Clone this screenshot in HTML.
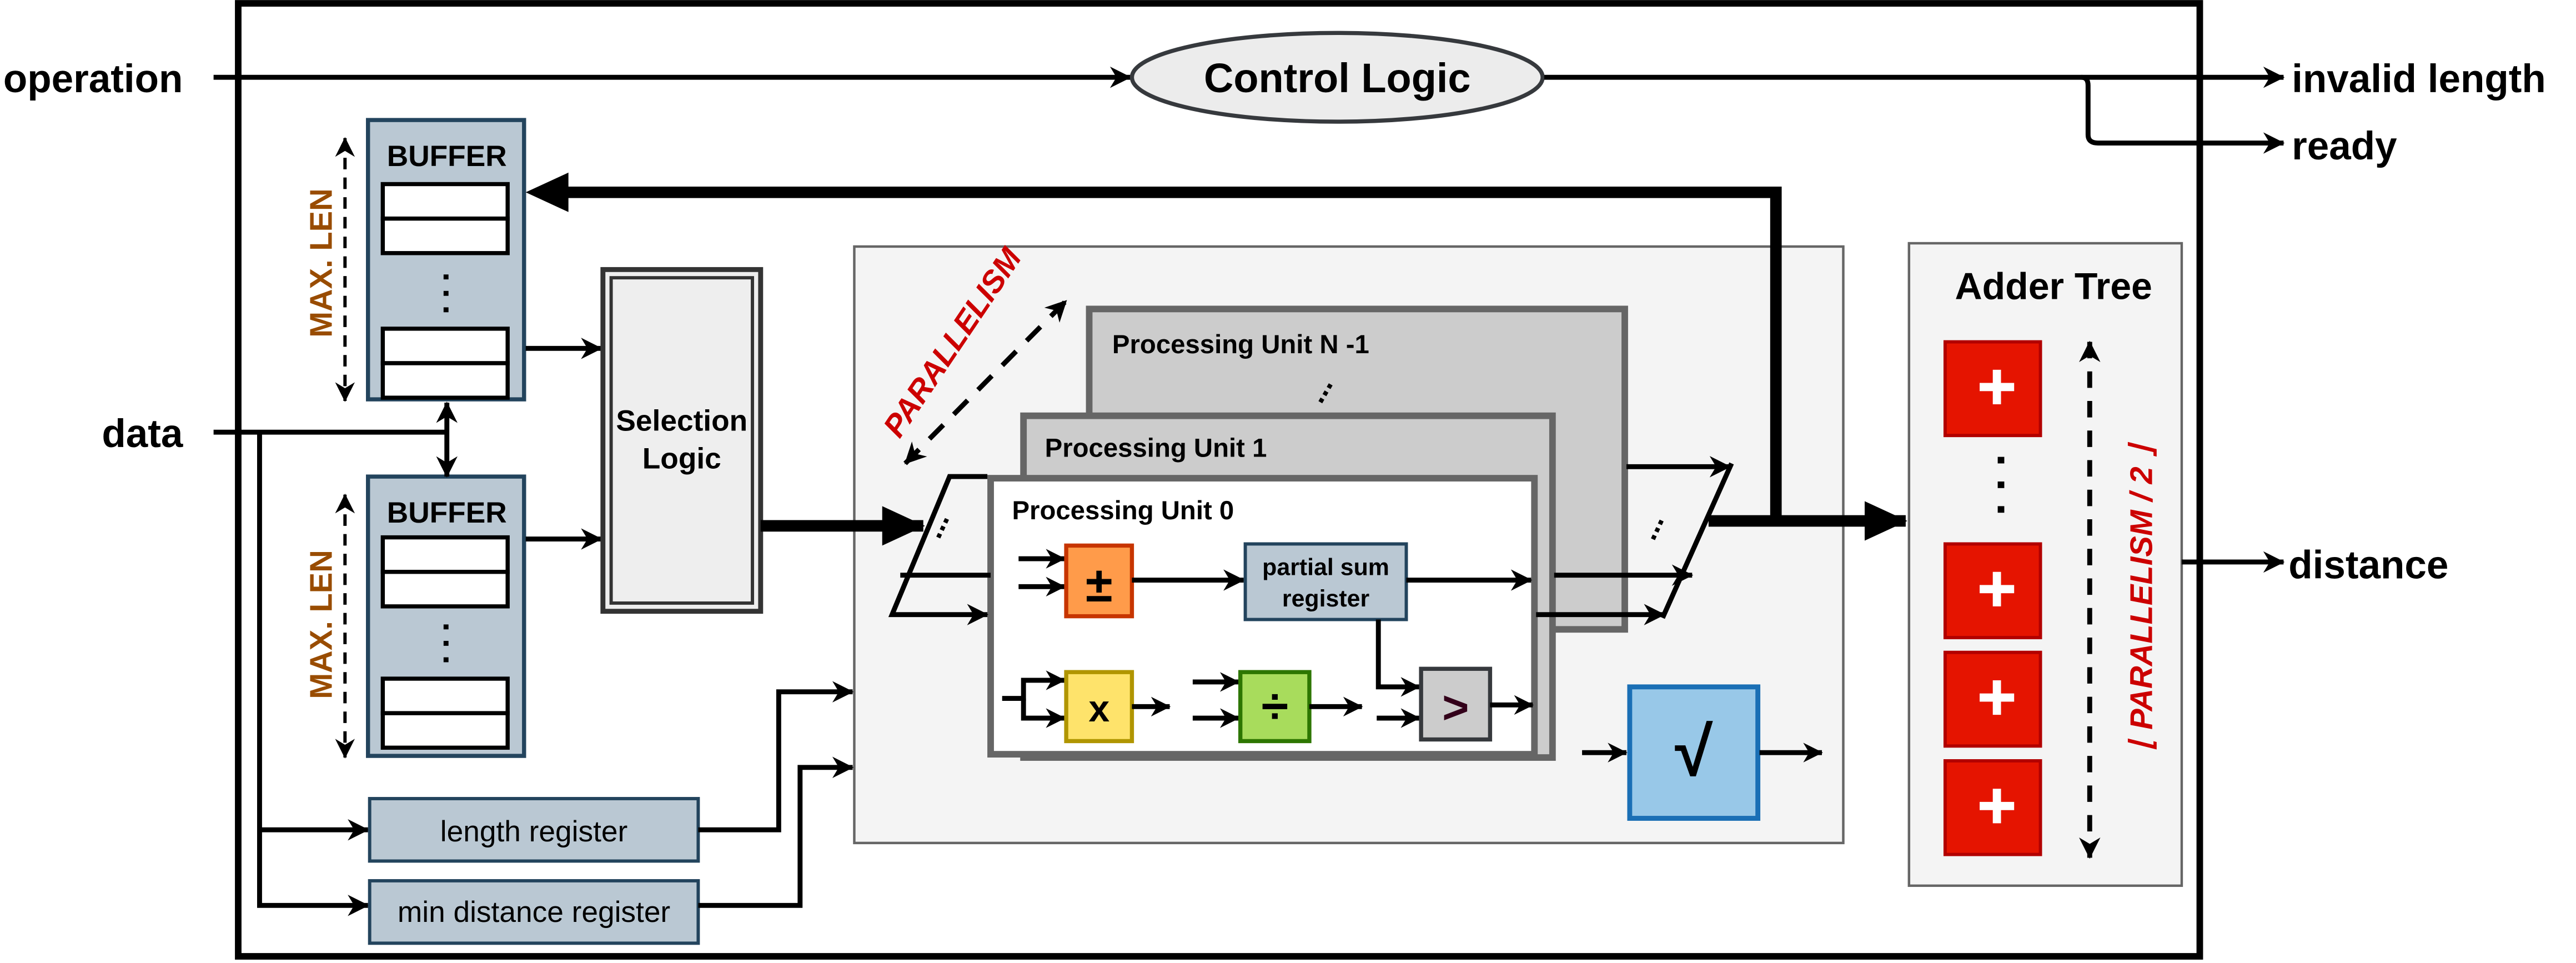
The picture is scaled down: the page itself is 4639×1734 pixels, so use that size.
<!DOCTYPE html>
<html><head><meta charset="utf-8"><style>
html,body{margin:0;padding:0;background:#fff;}
svg{display:block;}
text{font-family:"Liberation Sans",Arial,sans-serif;}
</style></head><body>
<svg width="4639" height="1734" viewBox="0 0 1568 586" xmlns="http://www.w3.org/2000/svg">
<defs>
<marker id="a" markerWidth="14" markerHeight="13" refX="9.5" refY="5" orient="auto-start-reverse" markerUnits="userSpaceOnUse" viewBox="0 0 10 10">
<path d="M0,0 L10,5 L0,10 L3,5 z" fill="#000"/></marker>
<marker id="as" markerWidth="12" markerHeight="12" refX="9.5" refY="5" orient="auto-start-reverse" markerUnits="userSpaceOnUse" viewBox="0 0 10 10">
<path d="M0,0 L10,5 L0,10 L3,5 z" fill="#000"/></marker>
<marker id="ab" markerWidth="26" markerHeight="24" refX="25" refY="12" orient="auto" markerUnits="userSpaceOnUse" viewBox="0 0 26 24">
<path d="M0,0 L26,12 L0,24 z" fill="#000"/></marker>
</defs>
<rect x="0" y="0" width="1568" height="586" fill="#fff"/>
<rect x="145" y="2" width="1194" height="580" fill="#fff" stroke="#000" stroke-width="4"/>

<line x1="130" y1="47" x2="688" y2="47" stroke="#000" stroke-width="3" marker-end="url(#a)"/>
<ellipse cx="814" cy="47" rx="125" ry="27" fill="#ececec" stroke="#36393d" stroke-width="2.5"/>
<text x="814" y="56" font-size="25" font-weight="bold" text-anchor="middle">Control Logic</text>
<line x1="940" y1="47" x2="1390" y2="47" stroke="#000" stroke-width="3" marker-end="url(#a)"/>
<path d="M1267,47 Q1271,47 1271,52 L1271,82 Q1271,87 1277,87 L1390,87" fill="none" stroke="#000" stroke-width="3" marker-end="url(#a)"/>
<text x="2" y="56" font-size="24" font-weight="bold">operation</text>
<text x="1395" y="56" font-size="24" font-weight="bold">invalid length</text>
<text x="1395" y="97" font-size="24" font-weight="bold">ready</text>
<text x="62" y="272" font-size="24" font-weight="bold">data</text>
<text x="1393" y="352" font-size="24" font-weight="bold">distance</text>

<rect x="520" y="150" width="602" height="363" fill="#f4f4f4" stroke="#666" stroke-width="1.5"/>
<rect x="1162" y="148" width="166" height="391" fill="#f4f4f4" stroke="#666" stroke-width="1.5"/>
<text x="1250" y="182" font-size="23" font-weight="bold" text-anchor="middle">Adder Tree</text>
<g fill="#e51400" stroke="#b20000" stroke-width="2">
<rect x="1184" y="208" width="58" height="57"/>
<rect x="1184" y="331" width="58" height="57"/>
<rect x="1184" y="397" width="58" height="57"/>
<rect x="1184" y="463" width="58" height="57"/>
</g>
<g fill="#fff">
<rect x="1205" y="233" width="21" height="5"/><rect x="1213" y="225" width="5" height="21"/>
<rect x="1205" y="356" width="21" height="5"/><rect x="1213" y="348" width="5" height="21"/>
<rect x="1205" y="422" width="21" height="5"/><rect x="1213" y="414" width="5" height="21"/>
<rect x="1205" y="488" width="21" height="5"/><rect x="1213" y="480" width="5" height="21"/>
</g>
<g fill="#000"><rect x="1216" y="278" width="4" height="4"/><rect x="1216" y="293" width="4" height="4"/><rect x="1216" y="308" width="4" height="4"/></g>
<line x1="1272" y1="208" x2="1272" y2="522" stroke="#000" stroke-width="3" stroke-dasharray="10,8" marker-start="url(#a)" marker-end="url(#a)"/>
<text transform="translate(1310,364) rotate(-90)" font-size="19" font-weight="bold" font-style="italic" fill="#cc0000" text-anchor="middle">⌊ PARALLELISM / 2 ⌋</text>

<line x1="1328" y1="342" x2="1390" y2="342" stroke="#000" stroke-width="3" marker-end="url(#a)"/>

<g>
<rect x="224" y="73" width="95" height="170" fill="#bac8d3" stroke="#23445d" stroke-width="2.5"/>
<text x="272" y="101" font-size="18" font-weight="bold" text-anchor="middle">BUFFER</text>
<rect x="233" y="112" width="76" height="21" fill="#fff" stroke="#000" stroke-width="2.5"/>
<rect x="233" y="133" width="76" height="21" fill="#fff" stroke="#000" stroke-width="2.5"/>
<rect x="233" y="200" width="76" height="21" fill="#fff" stroke="#000" stroke-width="2.5"/>
<rect x="233" y="221" width="76" height="21" fill="#fff" stroke="#000" stroke-width="2.5"/>
<g fill="#000"><rect x="270" y="167" width="3" height="3"/><rect x="270" y="177" width="3" height="3"/><rect x="270" y="187" width="3" height="3"/></g>
</g>
<g>
<rect x="224" y="290" width="95" height="170" fill="#bac8d3" stroke="#23445d" stroke-width="2.5"/>
<text x="272" y="318" font-size="18" font-weight="bold" text-anchor="middle">BUFFER</text>
<rect x="233" y="327" width="76" height="21" fill="#fff" stroke="#000" stroke-width="2.5"/>
<rect x="233" y="348" width="76" height="21" fill="#fff" stroke="#000" stroke-width="2.5"/>
<rect x="233" y="413" width="76" height="21" fill="#fff" stroke="#000" stroke-width="2.5"/>
<rect x="233" y="434" width="76" height="21" fill="#fff" stroke="#000" stroke-width="2.5"/>
<g fill="#000"><rect x="270" y="380" width="3" height="3"/><rect x="270" y="390" width="3" height="3"/><rect x="270" y="400" width="3" height="3"/></g>
</g>
<line x1="210" y1="84" x2="210" y2="244" stroke="#000" stroke-width="2" stroke-dasharray="7,5" marker-start="url(#as)" marker-end="url(#as)"/>
<line x1="210" y1="301" x2="210" y2="461" stroke="#000" stroke-width="2" stroke-dasharray="7,5" marker-start="url(#as)" marker-end="url(#as)"/>
<text transform="translate(202,160) rotate(-90)" font-size="19" font-weight="bold" fill="#994c00" text-anchor="middle">MAX. LEN</text>
<text transform="translate(202,380) rotate(-90)" font-size="19" font-weight="bold" fill="#994c00" text-anchor="middle">MAX. LEN</text>

<line x1="130" y1="263" x2="272" y2="263" stroke="#000" stroke-width="3"/>
<line x1="272" y1="245" x2="272" y2="290" stroke="#000" stroke-width="3" marker-start="url(#a)" marker-end="url(#a)"/>
<polyline points="158,263 158,505 224,505" fill="none" stroke="#000" stroke-width="3" marker-end="url(#a)"/>
<polyline points="158,505 158,551 224,551" fill="none" stroke="#000" stroke-width="3" marker-end="url(#a)"/>
<rect x="225" y="486" width="200" height="38" fill="#bac8d3" stroke="#23445d" stroke-width="2"/>
<text x="325" y="512" font-size="18" text-anchor="middle">length register</text>
<rect x="225" y="536" width="200" height="38" fill="#bac8d3" stroke="#23445d" stroke-width="2"/>
<text x="325" y="561" font-size="18" text-anchor="middle">min distance register</text>
<polyline points="425,505 474,505 474,421 519,421" fill="none" stroke="#000" stroke-width="3" marker-end="url(#a)"/>
<polyline points="425,551 487,551 487,467 519,467" fill="none" stroke="#000" stroke-width="3" marker-end="url(#a)"/>

<line x1="320" y1="212" x2="366" y2="212" stroke="#000" stroke-width="3" marker-end="url(#a)"/>
<line x1="320" y1="328" x2="366" y2="328" stroke="#000" stroke-width="3" marker-end="url(#a)"/>
<rect x="367" y="164" width="96" height="208" fill="#eee" stroke="#333" stroke-width="3"/>
<rect x="372" y="169" width="86" height="198" fill="none" stroke="#333" stroke-width="2"/>
<text x="415" y="262" font-size="18" font-weight="bold" text-anchor="middle">Selection</text>
<text x="415" y="285" font-size="18" font-weight="bold" text-anchor="middle">Logic</text>
<line x1="463" y1="320" x2="562" y2="320" stroke="#000" stroke-width="7" marker-end="url(#ab)"/>

<line x1="551" y1="282" x2="649" y2="183" stroke="#000" stroke-width="3" stroke-dasharray="12,9" marker-start="url(#a)" marker-end="url(#a)"/>
<text transform="translate(585,212) rotate(-56)" font-size="19" font-weight="bold" font-style="italic" fill="#cc0000" text-anchor="middle">PARALLELISM</text>

<rect x="663" y="188" width="326" height="195" fill="#ccc" stroke="#666" stroke-width="4"/>
<text x="677" y="215" font-size="16" font-weight="bold">Processing Unit N -1</text>
<text transform="translate(808,240) rotate(-60)" font-size="18" font-weight="bold" text-anchor="middle">...</text>
<rect x="623" y="253" width="322" height="208" fill="#ccc" stroke="#666" stroke-width="4"/>
<text x="636" y="278" font-size="16" font-weight="bold">Processing Unit 1</text>
<rect x="603" y="291" width="331" height="168" fill="#fff" stroke="#666" stroke-width="4"/>
<text x="616" y="316" font-size="16" font-weight="bold">Processing Unit 0</text>

<polyline points="601,290 578,290 543,374 601,374" fill="none" stroke="#000" stroke-width="3" marker-end="url(#a)"/>
<line x1="548" y1="350" x2="603" y2="350" stroke="#000" stroke-width="3"/>
<text transform="translate(575,322) rotate(-65)" font-size="18" font-weight="bold" text-anchor="middle">...</text>
<line x1="990" y1="284" x2="1053" y2="284" stroke="#000" stroke-width="3" marker-end="url(#a)"/>
<line x1="946" y1="350" x2="1030" y2="350" stroke="#000" stroke-width="3" marker-end="url(#a)"/>
<line x1="935" y1="374" x2="1013" y2="374" stroke="#000" stroke-width="3" marker-end="url(#a)"/>
<line x1="1054" y1="282" x2="1012" y2="376" stroke="#000" stroke-width="3"/>
<text transform="translate(1010,323) rotate(-65)" font-size="18" font-weight="bold" text-anchor="middle">...</text>
<line x1="1040" y1="317" x2="1160" y2="317" stroke="#000" stroke-width="7" marker-end="url(#ab)"/>
<polyline points="1081,320 1081,117 344,117" fill="none" stroke="#000" stroke-width="7"/>
<path d="M320,117 L346,105 L346,129 z" fill="#000"/>

<line x1="620" y1="340" x2="648" y2="340" stroke="#000" stroke-width="3" marker-end="url(#as)"/>
<line x1="620" y1="357" x2="648" y2="357" stroke="#000" stroke-width="3" marker-end="url(#as)"/>
<rect x="649" y="332" width="40" height="43" fill="#ff9b4a" stroke="#c73500" stroke-width="2.5"/>
<text x="669" y="366" font-size="30" font-weight="bold" text-anchor="middle">±</text>
<line x1="689" y1="353" x2="757" y2="353" stroke="#000" stroke-width="3" marker-end="url(#a)"/>
<rect x="758" y="331" width="98" height="46" fill="#bac8d3" stroke="#23445d" stroke-width="2"/>
<text x="807" y="350" font-size="14.5" font-weight="bold" text-anchor="middle">partial sum</text>
<text x="807" y="369" font-size="14.5" font-weight="bold" text-anchor="middle">register</text>
<line x1="856" y1="353" x2="932" y2="353" stroke="#000" stroke-width="3" marker-end="url(#a)"/>
<polyline points="839,377 839,418 864,418" fill="none" stroke="#000" stroke-width="3" marker-end="url(#as)"/>
<line x1="838" y1="437" x2="864" y2="437" stroke="#000" stroke-width="3" marker-end="url(#as)"/>

<polyline points="610,425 623,425 623,414 648,414" fill="none" stroke="#000" stroke-width="3" marker-end="url(#as)"/>
<polyline points="623,425 623,437 648,437" fill="none" stroke="#000" stroke-width="3" marker-end="url(#as)"/>
<rect x="649" y="409" width="40" height="42" fill="#fee36b" stroke="#b09500" stroke-width="2.5"/>
<text x="669" y="439" font-size="23" font-weight="bold" text-anchor="middle">x</text>
<line x1="689" y1="430" x2="712" y2="430" stroke="#000" stroke-width="3" marker-end="url(#as)"/>
<line x1="726" y1="415" x2="754" y2="415" stroke="#000" stroke-width="3" marker-end="url(#as)"/>
<line x1="726" y1="437" x2="754" y2="437" stroke="#000" stroke-width="3" marker-end="url(#as)"/>
<rect x="755" y="409" width="42" height="42" fill="#a8dc5c" stroke="#2d7600" stroke-width="2.5"/>
<text x="776" y="440" font-size="30" font-weight="bold" text-anchor="middle">÷</text>
<line x1="797" y1="430" x2="829" y2="430" stroke="#000" stroke-width="3" marker-end="url(#as)"/>
<rect x="865" y="407" width="42" height="43" fill="#cccccc" stroke="#36393d" stroke-width="2.5"/>
<text x="886" y="440" font-size="28" font-weight="bold" fill="#33001a" text-anchor="middle">&gt;</text>
<line x1="907" y1="429" x2="933" y2="429" stroke="#000" stroke-width="3" marker-end="url(#as)"/>

<line x1="963" y1="458" x2="990" y2="458" stroke="#000" stroke-width="3" marker-end="url(#as)"/>
<rect x="992" y="418" width="78" height="80" fill="#98c8e8" stroke="#1a6fb5" stroke-width="3"/>
<text x="1031" y="472" font-size="42" font-weight="bold" text-anchor="middle">√</text>
<line x1="1071" y1="458" x2="1109" y2="458" stroke="#000" stroke-width="3" marker-end="url(#as)"/>
</svg>
</body></html>
